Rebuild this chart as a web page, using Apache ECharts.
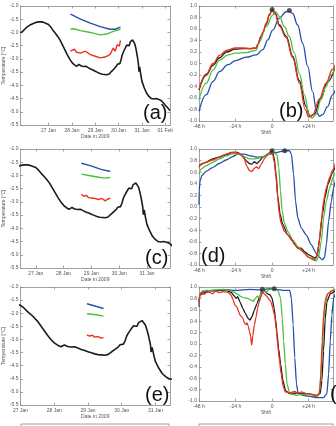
<!DOCTYPE html>
<html>
<head>
<meta charset="utf-8">
<script src="https://cdn.jsdelivr.net/npm/echarts@6/dist/echarts.min.js"></script>
<style>
html,body{margin:0;padding:0;background:#fff}
#main{width:336px;height:426px}
</style>
</head>
<body>
<div id="main"></div>
<script>
// observed temperature, [day of Jan 2009, degC]
const tempObs = [
  [25.8,-2.02],[25.9,-1.95],[26.0,-1.86],[26.1,-1.78],[26.2,-1.72],[26.3,-1.68],[26.4,-1.64],[26.5,-1.61],
  [26.6,-1.6],[26.7,-1.6],[26.75,-1.66],[26.8,-1.62],[26.9,-1.66],[27.0,-1.7],[27.05,-1.74],[27.1,-1.8],
  [27.2,-1.93],[27.3,-2.04],[27.35,-2.08],[27.4,-2.16],[27.5,-2.3],[27.6,-2.48],[27.7,-2.66],[27.8,-2.84],
  [27.9,-3.0],[28.0,-3.13],[28.1,-3.22],[28.2,-3.28],[28.25,-3.25],[28.3,-3.21],[28.35,-3.2],[28.4,-3.27],
  [28.5,-3.29],[28.55,-3.26],[28.6,-3.28],[28.7,-3.33],[28.8,-3.38],[28.9,-3.42],[29.0,-3.47],[29.1,-3.51],
  [29.2,-3.55],[29.3,-3.58],[29.35,-3.55],[29.4,-3.59],[29.5,-3.6],[29.55,-3.55],[29.6,-3.57],[29.65,-3.52],
  [29.7,-3.47],[29.8,-3.38],[29.9,-3.28],[29.95,-3.2],[30.0,-3.15],[30.05,-3.18],[30.1,-3.05],[30.15,-2.86],
  [30.2,-2.75],[30.25,-2.8],[30.3,-2.56],[30.35,-2.48],[30.4,-2.42],[30.45,-2.5],[30.5,-2.36],[30.55,-2.3],
  [30.6,-2.28],[30.65,-2.33],[30.7,-2.45],[30.75,-2.65],[30.8,-2.9],[30.85,-3.2],[30.87,-3.48],[30.9,-3.3],
  [30.95,-3.6],[31.0,-3.85],[31.1,-4.1],[31.2,-4.3],[31.3,-4.42],[31.4,-4.5],[31.5,-4.52],[31.6,-4.5],
  [31.7,-4.53],[31.8,-4.56],[31.9,-4.65],[32.0,-4.75],[32.1,-4.85],[32.2,-4.95]
];

// model runs in the temperature panels
const aBlue = [[27.94,-1.31],[28.37,-1.5],[28.79,-1.65],[29.21,-1.78],[29.63,-1.88],[29.85,-1.88],[30.08,-1.8]];
const aGreen = [[27.94,-1.88],[28.08,-1.86],[28.37,-1.93],[28.79,-2.0],[29.21,-2.09],[29.49,-2.06],[29.77,-1.96],[30.08,-1.88]];
const aRed = [[27.94,-2.71],[28.01,-2.75],[28.11,-2.63],[28.2,-2.75],[28.37,-2.78],[28.58,-2.71],[28.79,-2.84],
  [29.0,-2.9],[29.21,-2.96],[29.42,-2.93],[29.63,-2.84],[29.77,-2.59],[29.85,-2.71],[29.94,-2.46],[30.03,-2.52],[30.08,-2.3]];
const cBlue = [[28.64,-1.54],[28.96,-1.63],[29.32,-1.76],[29.68,-1.85]];
const cGreen = [[28.64,-1.95],[28.96,-2.01],[29.32,-2.08],[29.5,-2.1],[29.68,-2.08]];
const cRed = [[28.64,-2.71],[28.73,-2.79],[28.82,-2.75],[28.9,-2.84],[29.08,-2.86],[29.26,-2.91],[29.38,-2.87],
  [29.5,-2.96],[29.58,-2.9],[29.68,-2.86]];
const eBlue = [[28.97,-1.64],[29.46,-1.82]];
const eGreen = [[28.97,-2.02],[29.25,-2.06],[29.46,-2.11]];
const eRed = [[28.97,-2.83],[29.05,-2.87],[29.13,-2.84],[29.2,-2.91],[29.3,-2.89],[29.39,-2.95],[29.46,-2.93]];

// correlation against shift [hours, r]
const bBlack = [[-48,-0.46],[-43.2,-0.2],[-38.8,-0.03],[-34.5,0.1],[-30,0.2],[-24,0.25],[-19,0.26],[-14,0.26],
  [-10.5,0.27],[-9.4,0.33],[-7.2,0.47],[-6,0.54],[-3.9,0.68],[-1.7,0.84],[0,0.94],[2,0.88],[4.8,0.67],
  [9.2,0.48],[13.5,0.13],[17.9,-0.3],[22.3,-0.75],[24.9,-0.92],[27.7,-0.88],[32,-0.6],[36.4,-0.32],[41.5,-0.05]];
const bRed = [[-48,-0.45],[-43.2,-0.18],[-38.8,0.0],[-34.5,0.14],[-30,0.23],[-24,0.27],[-19,0.27],[-14,0.26],
  [-10.5,0.27],[-9.4,0.33],[-7.2,0.48],[-6,0.55],[-3.9,0.7],[-1.7,0.86],[0,0.92],[2,0.86],[4.8,0.65],
  [9.2,0.45],[13.5,0.1],[17.9,-0.34],[21.8,-0.8],[24,-0.93],[26.6,-0.9],[31,-0.62],[35.4,-0.34],[39.7,-0.1],[41.5,-0.02]];
const bGreen = [[-48,-0.63],[-43.2,-0.34],[-38.8,-0.11],[-34.5,0.06],[-29,0.15],[-24,0.18],[-17,0.19],[-10.5,0.23],
  [-8.3,0.38],[-3.9,0.64],[0.4,0.84],[2.2,0.9],[4.8,0.82],[8.1,0.64],[11.3,0.47],[14.6,0.18],[17.9,-0.17],
  [21.2,-0.54],[24.4,-0.89],[26.2,-0.95],[28.8,-0.89],[32.1,-0.63],[35.4,-0.4],[38.6,-0.2],[41.5,-0.05]];
const bBlue = [[-48,-0.83],[-43.2,-0.54],[-38.8,-0.31],[-34.5,-0.14],[-29,-0.02],[-24,0.05],[-17,0.11],[-10.5,0.15],
  [-6.1,0.24],[-2.8,0.41],[0.4,0.58],[4.8,0.79],[9.2,0.9],[11.3,0.91],[13.5,0.87],[16.8,0.67],[20.1,0.35],
  [23.4,-0.05],[26.6,-0.49],[29.2,-0.83],[31,-0.92],[33.2,-0.89],[36.4,-0.75],[39.7,-0.54],[41.5,-0.46]];
const bPeaks = [[0,0.94],[11.3,0.92]];

const dBlack = [[-48,0.71],[-43.5,0.77],[-39.1,0.83],[-34.7,0.86],[-30.3,0.9],[-25.9,0.94],[-22.6,0.94],[-19.3,0.88],
  [-17.1,0.8],[-14.9,0.75],[-13.2,0.74],[-11.6,0.78],[-9.9,0.75],[-8.4,0.79],[-6.2,0.86],[-2.9,0.91],[0,0.97],
  [1.3,0.86],[2.6,0.57],[3.7,0.19],[5.3,-0.13],[7,-0.3],[10.3,-0.48],[13.6,-0.59],[16.9,-0.71],[19.1,-0.71],
  [21.3,-0.77],[24.6,-0.83],[27.9,-0.88],[29.7,-0.84],[31.2,-0.54],[33,-0.13],[34.7,0.16],[36.7,0.39],[39.6,0.59],[41.8,0.71]];
const dRed = [[-48,0.68],[-46.8,0.74],[-43.5,0.77],[-39.1,0.81],[-34.7,0.86],[-30.3,0.91],[-27,0.94],[-23.7,0.94],
  [-20.4,0.9],[-18.2,0.83],[-16.7,0.71],[-14.9,0.63],[-13.4,0.61],[-11.6,0.67],[-10.1,0.69],[-8.8,0.66],[-7.3,0.73],
  [-5.1,0.83],[-2.9,0.91],[-1.1,0.94],[0.4,0.9],[1.5,0.77],[2.6,0.51],[3.7,0.16],[4.8,-0.13],[5.9,-0.28],[8.1,-0.42],
  [10.3,-0.48],[12.5,-0.54],[14.7,-0.65],[16.9,-0.71],[19.1,-0.74],[21.3,-0.8],[23.5,-0.86],[25.7,-0.88],[27.9,-0.91],
  [29,-0.88],[30.8,-0.65],[32.3,-0.25],[33.8,0.1],[35.6,0.33],[37.8,0.51],[40,0.65],[41.8,0.77]];
const dGreen = [[-48,0.57],[-46.8,0.65],[-43.5,0.71],[-39.1,0.77],[-34.7,0.83],[-30.3,0.88],[-25.9,0.92],[-21.5,0.91],
  [-18.2,0.87],[-14.9,0.83],[-11.6,0.83],[-9.5,0.84],[-6.2,0.87],[-2.9,0.9],[0.4,0.94],[3.1,0.91],[4.4,0.68],[5.5,0.28],
  [6.6,-0.07],[8.1,-0.28],[10.3,-0.42],[13.6,-0.57],[16.9,-0.68],[20.2,-0.77],[23.5,-0.86],[26.8,-0.91],[29,-0.93],
  [30.5,-0.86],[32.3,-0.59],[33.8,-0.19],[35.6,0.1],[37.8,0.33],[40,0.51],[41.8,0.62]];
const dBlue = [[-48,0.04],[-47.9,0.28],[-47.3,0.45],[-46.2,0.54],[-43.5,0.61],[-39.1,0.68],[-34.7,0.75],[-30.3,0.81],
  [-25.9,0.87],[-22.6,0.91],[-18.2,0.91],[-13.8,0.88],[-9.5,0.86],[-5.1,0.87],[-1.8,0.91],[2.6,0.94],[8.1,0.97],
  [11.4,0.97],[12.7,0.91],[14.1,0.57],[15.4,0.1],[16.9,-0.19],[19.1,-0.36],[22.4,-0.48],[25.7,-0.65],[29,-0.8],
  [31.2,-0.87],[33,-0.91],[34.5,-0.87],[35.6,-0.65],[37.1,-0.25],[38.9,0.1],[40.4,0.33],[41.8,0.48]];
const dPeaks = [[0,0.97],[8.3,0.97]];

const fBlack = [[-48,0.74],[-47.5,0.86],[-45.7,0.88],[-42.4,0.93],[-36.9,0.94],[-30.3,0.94],[-27,0.91],[-24.8,0.84],
  [-23.7,0.8],[-22.6,0.83],[-21.1,0.74],[-19.3,0.63],[-17.6,0.54],[-15.8,0.45],[-14.5,0.42],[-13.2,0.48],[-11.6,0.6],
  [-9.9,0.71],[-7.9,0.84],[-6.6,0.96],[-5.1,0.94],[-2.9,0.88],[-1.3,0.86],[0,0.8],[1.3,0.63],[2.2,0.45],[3.1,0.22],
  [4.2,-0.07],[5.6,-0.35],[7.1,-0.64],[8.9,-0.82],[11.6,-0.87],[16,-0.86],[20.4,-0.87],[24.9,-0.88],[29.3,-0.9],
  [31.6,-0.87],[32.7,-0.64],[33.8,-0.12],[34.9,0.45],[36,0.74],[38.2,0.88],[42.2,0.94]];
const fRed = [[-48,0.71],[-47.5,0.87],[-45.7,0.91],[-44.5,0.87],[-43.5,0.9],[-41.3,0.91],[-39,0.88],[-36.9,0.93],
  [-34.5,0.9],[-32.5,0.92],[-29.2,0.91],[-27,0.86],[-25.5,0.77],[-24.4,0.68],[-23.1,0.65],[-22,0.57],[-20.9,0.5],
  [-19.3,0.46],[-18.2,0.37],[-17.1,0.34],[-16.5,0.37],[-15.6,0.31],[-14.9,0.22],[-14.1,0.14],[-13.4,-0.02],
  [-12.7,0.14],[-11.6,0.34],[-10.5,0.48],[-9.5,0.63],[-8.4,0.74],[-7.3,0.83],[-6.2,0.91],[-5.1,0.88],[-3.5,0.84],
  [-2.2,0.79],[-0.7,0.74],[0.4,0.63],[1.6,0.51],[2.7,0.28],[3.8,-0.04],[4.9,-0.3],[6,-0.53],[7.1,-0.73],[8.7,-0.84],
  [11.6,-0.86],[14.9,-0.83],[17,-0.87],[19.3,-0.84],[22.7,-0.87],[26,-0.88],[29.3,-0.93],[31.1,-0.86],[32,-0.53],
  [32.9,0.05],[33.8,0.51],[34.9,0.77],[36.4,0.88],[39.3,0.93],[42.2,0.94]];
const fGreen = [[-48,0.77],[-47.5,0.88],[-45.7,0.93],[-41.3,0.94],[-34.7,0.96],[-28.1,0.94],[-24.8,0.91],[-22.6,0.87],
  [-20.4,0.83],[-18.2,0.81],[-16,0.8],[-13.8,0.77],[-12.3,0.75],[-11,0.8],[-9.5,0.84],[-8.4,0.81],[-7.3,0.88],
  [-5.7,0.94],[-4,0.91],[-1.8,0.96],[1.3,0.97],[3.8,0.94],[5.6,0.8],[6.7,0.45],[7.6,0.05],[8.7,-0.35],[9.8,-0.7],
  [11.6,-0.87],[16,-0.9],[20.4,-0.88],[24.9,-0.89],[30.4,-0.9],[31.6,-0.76],[32.7,-0.24],[33.8,0.34],[34.9,0.68],
  [36.4,0.88],[39.3,0.94],[42.2,0.97]];
const fBlue = [[-48,0.65],[-47.5,0.86],[-45.7,0.91],[-43.5,0.94],[-39.1,0.93],[-32.5,0.96],[-23.7,0.94],[-14.9,0.96],
  [-8.4,0.95],[-1.8,0.97],[2.7,0.96],[8.2,0.94],[11.6,0.94],[12.7,0.8],[13.8,0.34],[14.9,-0.24],[16,-0.7],[17.1,-0.87],
  [20.4,-0.9],[24.9,-0.92],[29.3,-0.94],[33.8,-0.94],[36,-0.87],[37.1,-0.53],[38.2,0.05],[39.3,0.51],[40.4,0.8],[42.2,0.94]];
const fPeaks = [[-6.4,0.96],[1.4,0.97]];

const dateTicksA = [27, 28, 29, 30, 31, 32];
const dateTicksCE = [27, 28, 29, 30, 31];
const shiftTicks = [-48, -24, 0, 24];
const shiftTickLabels = {'-48': '-48 h', '-24': '-24 h', '0': '0', '24': '+24 h'};
const panelNames = ['(a)', '(b)', '(c)', '(d)', '(e)', '(f)'];

const C_BLACK = '#1c1c1c', C_BLUE = '#2250ab', C_GREEN = '#4fbd3e', C_RED = '#e8321f';
const axisColor = '#8a8a8a', labelColor = '#555';
const FONT = 'Liberation Sans';

let grids = [], xAxes = [], yAxes = [], series = [], titles = [];

function dateLabel(v) {
  if (v <= 31) return v + ' Jan';
  return '0' + (v - 31) + ' Feb';
}

function addPanel(rect, xc, yc) {
  const gi = grids.length;
  grids.push(Object.assign({show: false}, rect));
  const tick = {show: true, inside: true, length: 2.5, lineStyle: {color: axisColor, width: 0.8}};
  const line = {show: true, onZero: false, lineStyle: {color: axisColor, width: 0.8}};
  const lbl = {fontSize: 5, color: labelColor, fontFamily: FONT};
  xAxes.push({
    type: 'value', gridIndex: gi, position: 'bottom', min: xc.min, max: xc.max,
    axisLine: line, splitLine: {show: false},
    axisTick: Object.assign({customValues: xc.ticks}, tick),
    axisLabel: Object.assign({customValues: xc.ticks, formatter: xc.fmt, margin: 3}, lbl),
    name: xc.name, nameLocation: 'middle', nameGap: xc.nameGap,
    nameTextStyle: {fontSize: 5, color: labelColor, fontFamily: FONT}
  });
  xAxes.push({
    type: 'value', gridIndex: gi, position: 'top', min: xc.min, max: xc.max,
    axisLine: line, splitLine: {show: false},
    axisTick: Object.assign({customValues: xc.ticks}, tick),
    axisLabel: {show: false}
  });
  yAxes.push({
    type: 'value', gridIndex: gi, position: 'left', min: yc.min, max: yc.max, interval: yc.interval,
    axisLine: line, splitLine: {show: false}, axisTick: tick,
    axisLabel: Object.assign({formatter: v => v.toFixed(1), margin: 2}, lbl),
    name: yc.name || '', nameLocation: 'middle', nameGap: 12,
    nameTextStyle: {fontSize: 5, color: labelColor, fontFamily: FONT}
  });
  yAxes.push({
    type: 'value', gridIndex: gi, position: 'right', min: yc.min, max: yc.max, interval: yc.interval,
    axisLine: line, splitLine: {show: false}, axisTick: tick, axisLabel: {show: false}
  });
  return {x: xAxes.length - 2, y: yAxes.length - 2};
}

function addLine(ax, data, color, width, smooth) {
  series.push({
    type: 'line', xAxisIndex: ax.x, yAxisIndex: ax.y, data: data,
    showSymbol: false, symbol: 'none', smooth: smooth || false, smoothMonotone: 'x',
    lineStyle: {color: color, width: width}, itemStyle: {color: color},
    silent: true, animation: false
  });
}

function addPeaks(ax, data) {
  series.push({
    type: 'scatter', xAxisIndex: ax.x, yAxisIndex: ax.y, data: data,
    symbolSize: 5, itemStyle: {color: '#333'}, silent: true, animation: false, z: 5
  });
}

function addTag(text, left, top) {
  titles.push({
    text: text, left: left, top: top, padding: 0,
    textStyle: {fontSize: 20, fontWeight: 'normal', color: '#111', fontFamily: FONT}
  });
}

const tempY = {min: -5.5, max: -1.0, interval: 0.5, name: 'Temperature [\u00B0C]'};
const corrY = {min: -1, max: 1, interval: 0.2};
const shiftX = {min: -48, max: 40, ticks: shiftTicks, fmt: v => shiftTickLabels[String(v)], name: 'Shift', nameGap: 6};

// left column: temperature
const pa = addPanel({left: 20, top: 6, width: 150, height: 119},
  {min: 25.8, max: 32.2, ticks: dateTicksA, fmt: dateLabel, name: 'Date in 2009', nameGap: 7}, tempY);
addLine(pa, tempObs, C_BLACK, 1.6);
addLine(pa, aBlue, C_BLUE, 1.4);
addLine(pa, aGreen, C_GREEN, 1.4);
addLine(pa, aRed, C_RED, 1.4);

const pc = addPanel({left: 20, top: 149, width: 150, height: 119},
  {min: 26.45, max: 31.83, ticks: dateTicksCE, fmt: dateLabel, name: 'Date in 2009', nameGap: 7}, tempY);
addLine(pc, tempObs, C_BLACK, 1.6);
addLine(pc, cBlue, C_BLUE, 1.4);
addLine(pc, cGreen, C_GREEN, 1.4);
addLine(pc, cRed, C_RED, 1.4);

const pe = addPanel({left: 20, top: 287, width: 150, height: 118},
  {min: 27.0, max: 31.43, ticks: dateTicksCE, fmt: dateLabel, name: 'Date in 2009', nameGap: 7}, tempY);
addLine(pe, tempObs, C_BLACK, 1.6);
addLine(pe, eBlue, C_BLUE, 1.4);
addLine(pe, eGreen, C_GREEN, 1.4);
addLine(pe, eRed, C_RED, 1.4);

// right column: correlation vs shift
const pb = addPanel({left: 199, top: 6, width: 134, height: 115}, shiftX, corrY);
addLine(pb, bBlack, C_BLACK, 1.3, 0.4);
addLine(pb, bBlue, C_BLUE, 1.3, 0.4);
addLine(pb, bGreen, C_GREEN, 1.3, 0.4);
addLine(pb, bRed, C_RED, 1.3, 0.4);
addPeaks(pb, bPeaks);

const pd = addPanel({left: 199, top: 149, width: 134, height: 116}, shiftX, corrY);
addLine(pd, dBlack, C_BLACK, 1.3, 0.2);
addLine(pd, dBlue, C_BLUE, 1.3, 0.2);
addLine(pd, dGreen, C_GREEN, 1.3, 0.2);
addLine(pd, dRed, C_RED, 1.3, 0.2);
addPeaks(pd, dPeaks);

const pf = addPanel({left: 199, top: 287, width: 134, height: 114}, shiftX, corrY);
addLine(pf, fBlack, C_BLACK, 1.3, 0.15);
addLine(pf, fBlue, C_BLUE, 1.3, 0.15);
addLine(pf, fGreen, C_GREEN, 1.3, 0.15);
addLine(pf, fRed, C_RED, 1.3, 0.15);
addPeaks(pf, fPeaks);

addTag(panelNames[0], 143, 103);
addTag(panelNames[1], 279, 101);
addTag(panelNames[2], 145, 248);
addTag(panelNames[3], 201, 246);
addTag(panelNames[4], 145, 385);
addTag(panelNames[5], 330, 384);

// next row of panels, cut off by the bottom edge
[{left: 21, top: 424, width: 148, height: 60}, {left: 199, top: 424, width: 134, height: 60}].forEach(r => {
  const gi = grids.length;
  grids.push(Object.assign({show: true, borderColor: axisColor, borderWidth: 0.8, backgroundColor: 'transparent'}, r));
  xAxes.push({type: 'value', gridIndex: gi, show: false});
  yAxes.push({type: 'value', gridIndex: gi, show: false});
});

const chart = echarts.init(document.getElementById('main'), null, {renderer: 'canvas'});
chart.setOption({
  backgroundColor: '#fff',
  animation: false,
  title: titles,
  grid: grids,
  xAxis: xAxes,
  yAxis: yAxes,
  series: series
});
</script>
</body>
</html>
